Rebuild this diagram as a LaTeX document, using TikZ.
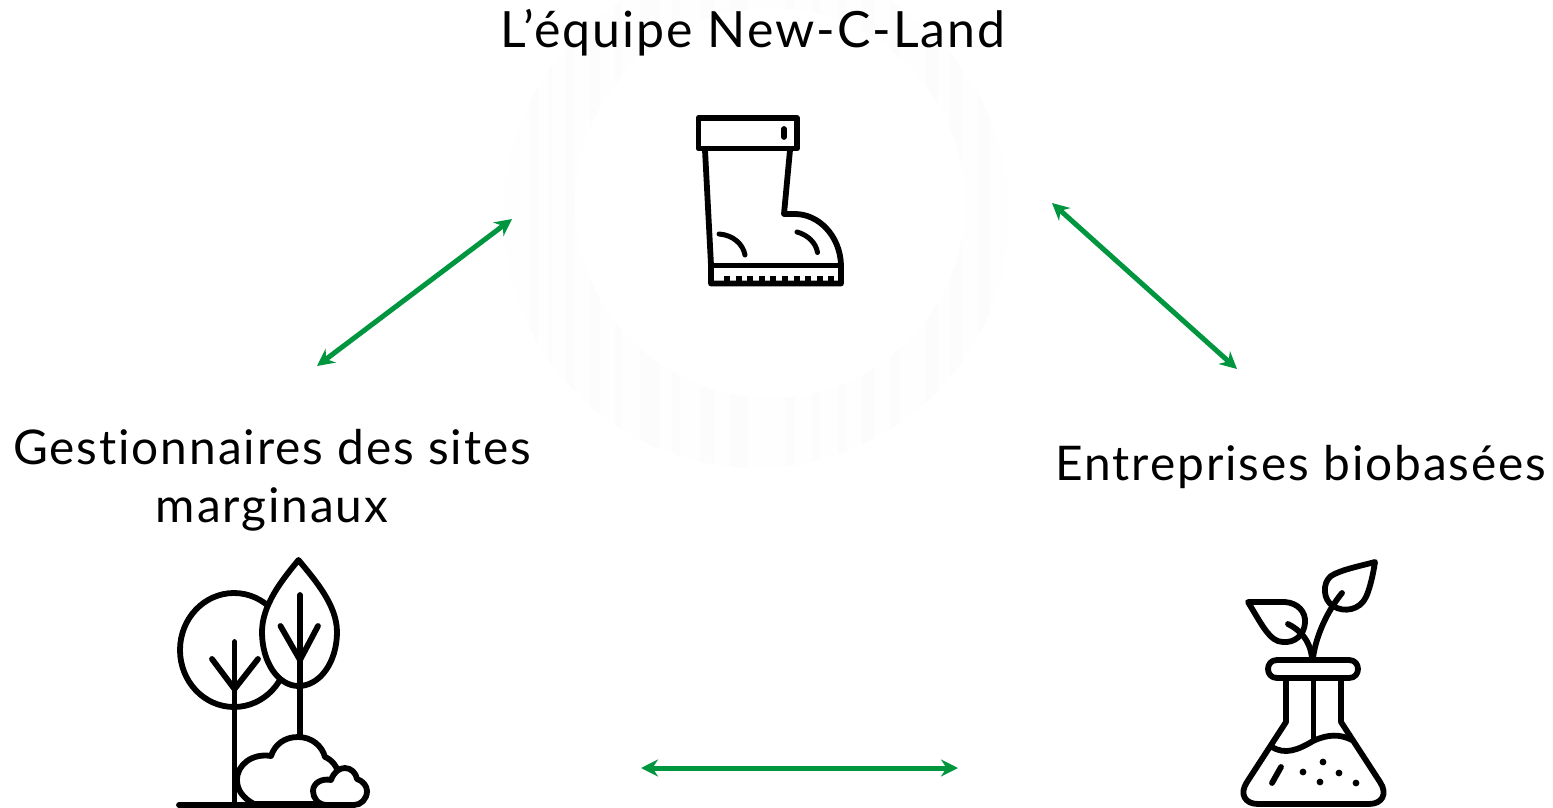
\documentclass[tikz,border=0pt]{standalone}
\usepackage{fontspec}
\setmainfont[LetterSpace=4,Ligatures=NoCommon]{Lato}
\usetikzlibrary{arrows.meta}
\definecolor{arrowgreen}{HTML}{009640}
\definecolor{ringgrey}{HTML}{FEFEFE}
\definecolor{ringband}{HTML}{FCFCFC}
\tikzset{
  lbl/.style={align=center,inner sep=0pt,text=black,font=\fontsize{47.8}{58}\selectfont},
  ttl/.style={align=center,inner sep=0pt,text=black,font=\fontsize{50}{58}\selectfont},
  ico/.style={line width=5.8pt,line cap=round,line join=round,draw=black},
  icofill/.style={ico,fill=white},
  link/.style={draw=arrowgreen,line width=5pt,{Stealth[length=17pt,width=17pt]}-{Stealth[length=17pt,width=17pt]}}
}
\begin{document}
\begin{tikzpicture}[x=1pt,y=-1pt]
\useasboundingbox (0,0) rectangle (1553,808);
% faint ring with vertical banding
\fill[ringgrey,even odd rule] (756,215) circle[radius=253pt] (770,203) circle[radius=195pt];
\begin{scope}[even odd rule]
\clip (756,215) circle[radius=253pt] (770,203) circle[radius=195pt];
\foreach \a/\b in {530/538,548/552,565/575,590/600,615/622,640/660,672/680,700/715,730/748,785/795,812/820,838/846,862/875,890/900,925/938,950/962,978/990}{
  \fill[ringband] (\a,0) rectangle (\b,480);}
\end{scope}
% labels
\node[ttl] (team) at (753,33) {L’équipe New-C-Land};
\node[lbl] (sites) at (272,480) {Gestionnaires des sites\\marginaux};
\node[lbl] (firms) at (1301,467) {Entreprises biobasées};
% boot
\draw[ico] (698.5,118) rectangle (797,148.5);
\draw[ico] (784,129) -- (784,137);
\draw[ico] (705,150) -- (711,265) -- (711,283.5) -- (841,283.5) -- (841,265)
  .. controls (840,235) and (818,214) .. (795,214) -- (784,214) -- (790,150);
\draw[ico] (711,265.5) -- (841,265.5);
\draw[ico,line width=5pt] (719,234) .. controls (733,235) and (743,244) .. (745,255);
\draw[ico,line width=5pt] (797,232) .. controls (808,235) and (816,243) .. (817.5,252.5);
\foreach \i in {0,...,9}{\draw[line width=6pt] ({727+11.6*\i},276) -- ({727+11.6*\i},283);}
% trees
\coordinate (groundL) at (179,805);
\coordinate (groundR) at (352,805);
\draw[ico] (234,650) ellipse[x radius=54pt,y radius=57pt];
\draw[ico] (234.5,642) -- (234.5,805);
\draw[ico] (212,659) -- (234.5,689) -- (258,659);
\draw[ico] (300,685) -- (300,737);
\draw[icofill] (298.5,560) .. controls (315,580) and (337,605) .. (337,632)
  .. controls (337,662) and (320,686) .. (298.5,686)
  .. controls (278,686) and (262,662) .. (262,632)
  .. controls (262,605) and (282,580) .. (298.5,560) -- cycle;
\draw[ico] (300,595) -- (300,686);
\draw[ico] (280.5,626) -- (300,660) -- (318,626);
\draw[icofill] (254,804) .. controls (243,798) and (237,790) .. (237,780)
  .. controls (237,764) and (253,753) .. (271,756)
  .. controls (275,744) and (285,737) .. (298,737)
  .. controls (312,737) and (322,746) .. (325,757)
  .. controls (332,760) and (336,765) .. (338,772) -- (338,804) -- cycle;
\draw[icofill] (327,805) .. controls (318,805) and (313,798) .. (313,791)
  .. controls (313,783) and (322,778) .. (331,780)
  .. controls (334,772) and (339,768) .. (345,768)
  .. controls (351,768) and (356,773) .. (357,779)
  .. controls (363,781) and (367,786) .. (367,791)
  .. controls (367,799) and (361,805) .. (354,805) -- cycle;
\draw[ico] (groundL) -- (groundR);
% flask
\draw[ico] (1286,678) -- (1286,722) -- (1247,782)
  .. controls (1239,794) and (1245,804) .. (1258,804) -- (1369,804)
  .. controls (1382,804) and (1388,794) .. (1380,782) -- (1341,722) -- (1341,678);
\draw[ico] (1277,660) -- (1349,660) .. controls (1361,660) and (1361,678) .. (1349,678)
  -- (1277,678) .. controls (1265,678) and (1265,660) .. (1277,660) -- cycle;
\draw[ico] (1313.5,678) -- (1313.5,740);
\draw[ico] (1272,747) .. controls (1285,755) and (1298,750) .. (1313,741)
  .. controls (1328,734) and (1340,734) .. (1352,740);
\draw[ico] (1281,767) -- (1272,783);
\foreach \p in {(1323,762),(1303,772),(1339,773),(1320,782),(1356,783)}{\fill \p circle[radius=3.4pt];}
\draw[ico] (1313,658) .. controls (1316,635) and (1328,610) .. (1342,593);
\draw[ico] (1312,658) .. controls (1310,640) and (1300,630) .. (1288,624);
\draw[ico] (1375,562) .. controls (1360,566) and (1340,570) .. (1331,576)
  .. controls (1322,583) and (1323,600) .. (1333,606)
  .. controls (1344,613) and (1360,610) .. (1366,597)
  .. controls (1370,588) and (1373,575) .. (1375,562) -- cycle;
\draw[ico] (1248,602) -- (1285,602) .. controls (1298,603) and (1306,612) .. (1305,623)
  .. controls (1304,635) and (1295,643) .. (1283,642)
  .. controls (1270,642) and (1262,625) .. (1248,602) -- cycle;
% connectors
\coordinate (a1) at (512,219);
\coordinate (a2) at (317,366);
\coordinate (b1) at (1052,203);
\coordinate (b2) at (1237,369);
\coordinate (c1) at (641,768);
\coordinate (c2) at (958,768);
\draw[link] (a1) -- (a2);
\draw[link] (b1) -- (b2);
\draw[link] (c1) -- (c2);
\end{tikzpicture}
\end{document}
